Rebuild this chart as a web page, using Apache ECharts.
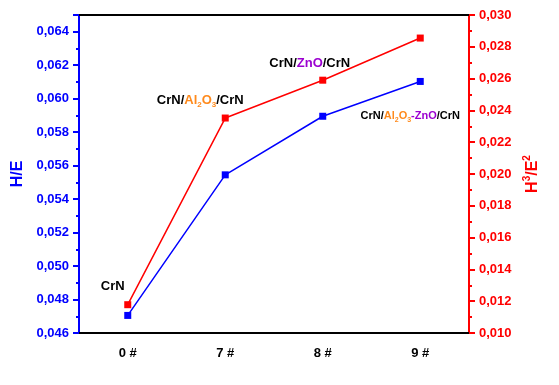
<!DOCTYPE html>
<html><head><meta charset="utf-8">
<script src="https://cdn.jsdelivr.net/npm/echarts@6/dist/echarts.min.js"></script>
<style>html,body{margin:0;padding:0;background:#fff}#c{width:559px;height:385px}</style>
</head><body><div id="c"></div>
<script>
var categories = ['0 #', '7 #', '8 #', '9 #'];
var hE = [0.04705, 0.05545, 0.05895, 0.06103];
var h3E2 = [0.01178, 0.02352, 0.02590, 0.02855];
var leftTicks = {min: 0.046, max: 0.065, interval: 0.002};
var rightTicks = {min: 0.010, max: 0.030, interval: 0.002};
var annotations = ['CrN', '{b|CrN/}{o|Al}{os|2}{o|O}{os|3}{b|/CrN}', '{b|CrN/}{p|ZnO}{b|/CrN}', '{b|CrN/}{o|Al}{os|2}{o|O}{os|3}{p|-ZnO}{b|/CrN}'];

var FONT = '"Liberation Sans", Arial, sans-serif';
var BLUE = '#0000ff', RED = '#ff0000', ORANGE = '#ff8a1c', PURPLE = '#9b00d0';
function fmt(v){ return v.toFixed(3).replace('.', ','); }
function richSet(fs){
  return {
    b: {color:'#000', fontSize: fs, fontWeight:'bold', fontFamily: FONT, lineHeight: fs+4},
    o: {color: ORANGE, fontSize: fs, fontWeight:'bold', fontFamily: FONT, lineHeight: fs+4},
    p: {color: PURPLE, fontSize: fs, fontWeight:'bold', fontFamily: FONT, lineHeight: fs+4},
    os: {color: ORANGE, fontSize: Math.round(fs*0.65), fontWeight:'bold', fontFamily: FONT, verticalAlign:'bottom', lineHeight: fs+4}
  };
}
var chart = echarts.init(document.getElementById('c'));
var redData = h3E2.map(function(v, i){
  var d = {value: v};
  if (i === 0) d.label = {show:true, position:'inside', formatter: annotations[0], offset:[-15,-18], color:'#000', fontSize:13, fontWeight:'bold', fontFamily:FONT};
  if (i === 1) d.label = {show:true, position:'inside', formatter: annotations[1], offset:[-25,-18], rich: richSet(13)};
  if (i === 2) d.label = {show:true, position:'inside', formatter: annotations[2], offset:[-13,-17], rich: richSet(13)};
  return d;
});
var blueData = hE.map(function(v, i){
  var d = {value: v};
  if (i === 3) d.label = {show:true, position:'inside', formatter: annotations[3], offset:[-10,35], rich: richSet(11)};
  return d;
});
chart.setOption({
  animation: false,
  backgroundColor: '#fff',
  grid: {left: 79, right: 90, top: 15, bottom: 52},
  xAxis: [{
    type: 'category', data: categories, position: 'bottom',
    axisLine: {lineStyle: {color: '#000', width: 2}},
    axisTick: {alignWithLabel: true, length: 6, lineStyle: {color:'#000', width: 2}},
    axisLabel: {color: '#000', fontSize: 13, fontWeight: 'bold', fontFamily: FONT, margin: 14}
  }, {
    type: 'category', data: categories, position: 'top',
    axisLine: {lineStyle: {color: '#000', width: 2}},
    axisTick: {show: false}, axisLabel: {show: false}
  }],
  yAxis: [{
    type: 'value', position: 'left', min: leftTicks.min, max: leftTicks.max, interval: leftTicks.interval,
    name: 'H/E', nameLocation: 'middle', nameGap: 52,
    nameTextStyle: {color: BLUE, fontSize: 16, fontWeight: 'bold', fontFamily: FONT},
    axisLine: {show: true, lineStyle: {color: BLUE, width: 2}},
    axisTick: {show: true, length: 6, lineStyle: {color: BLUE, width: 2}},
    minorTick: {show: true, splitNumber: 2, length: 3, lineStyle: {color: BLUE, width: 2}},
    splitLine: {show: false},
    axisLabel: {color: BLUE, fontSize: 13, fontWeight: 'bold', fontFamily: FONT, margin: 10,
      formatter: function(v){ return v > 0.0645 ? '' : fmt(v); }}
  }, {
    type: 'value', position: 'right', min: rightTicks.min, max: rightTicks.max, interval: rightTicks.interval,
    name: 'H{s|3}/E{s|2}', nameLocation: 'middle', nameGap: 52, nameRotate: 90,
    nameTextStyle: {color: RED, fontSize: 16, fontWeight: 'bold', fontFamily: FONT,
      rich: {s: {color: RED, fontSize: 10, fontWeight:'bold', fontFamily: FONT, verticalAlign: 'top', lineHeight: 20}}},
    axisLine: {show: true, lineStyle: {color: RED, width: 2}},
    axisTick: {show: true, length: 6, lineStyle: {color: RED, width: 2}},
    minorTick: {show: true, splitNumber: 2, length: 3, lineStyle: {color: RED, width: 2}},
    splitLine: {show: false},
    axisLabel: {color: RED, fontSize: 13, fontWeight: 'bold', fontFamily: FONT, margin: 10, formatter: fmt}
  }],
  series: [{
    type: 'line', yAxisIndex: 1, data: redData, symbol: 'rect', symbolSize: 7,
    itemStyle: {color: RED}, lineStyle: {color: RED, width: 1.5}, z: 3
  }, {
    type: 'line', yAxisIndex: 0, data: blueData, symbol: 'rect', symbolSize: 7,
    itemStyle: {color: BLUE}, lineStyle: {color: BLUE, width: 1.5}, z: 4
  }]
});
</script></body></html>
